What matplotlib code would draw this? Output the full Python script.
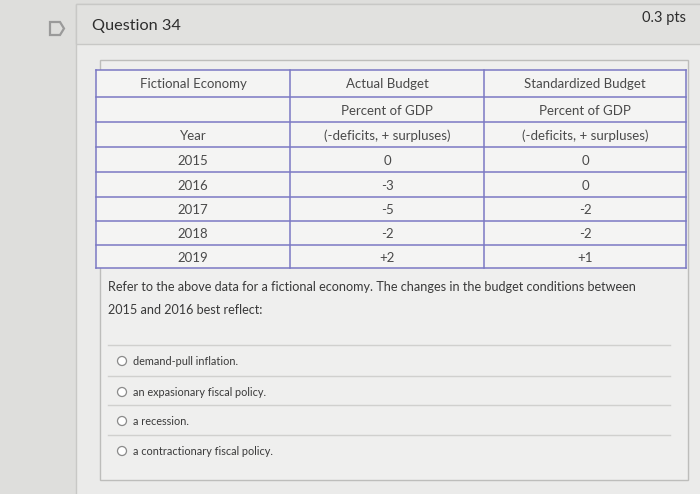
import matplotlib.pyplot as plt
from matplotlib.patches import Rectangle, Circle, Polygon

plt.rcParams['font.family'] = ['Lato', 'DejaVu Sans']

# table data
header_rows = [
    ["Fictional Economy", "Actual Budget", "Standardized Budget"],
    ["", "Percent of GDP", "Percent of GDP"],
    ["Year", "(-deficits, + surpluses)", "(-deficits, + surpluses)"],
]
years = ["2015", "2016", "2017", "2018", "2019"]
actual = ["0", "-3", "-5", "-2", "+2"]
standardized = ["0", "0", "-2", "-2", "+1"]

question = ["Refer to the above data for a fictional economy. The changes in the budget conditions between",
            "2015 and 2016 best reflect:"]
options = ["demand-pull inflation.", "an expasionary fiscal policy.",
           "a recession.", "a contractionary fiscal policy."]

fig = plt.figure(figsize=(7, 4.94), dpi=100)
ax = fig.add_axes([0, 0, 1, 1])
ax.set_xlim(0, 700)
ax.set_ylim(494, 0)
ax.axis('off')
fig.patch.set_facecolor('#dededc')

# card
ax.add_patch(Rectangle((76, 4), 630, 500, facecolor='#ebebea', edgecolor='#c8c8c6', lw=1))
ax.add_patch(Rectangle((76, 4), 630, 40, facecolor='#e1e1df', edgecolor='#c8c8c6', lw=1))
# bookmark icon
ax.add_patch(Polygon([(50, 22), (60, 22), (64, 28.5), (60, 35), (50, 35)],
                     closed=True, facecolor='none', edgecolor='#9a9a9a', lw=1.6))
ax.text(92, 26, "Question 34", fontsize=11.7, color='#2d2d2d', va='center', ha='left')
ax.text(686, 18, "0.3 pts", fontsize=10.5, color='#2d2d2d', va='center', ha='right')

# question body box
ax.add_patch(Rectangle((100, 60), 588, 420, facecolor='#efefee', edgecolor='#bdbdbb', lw=1))

# table
col_x = [96, 290, 484, 686]
row_y = [70, 97, 122, 147, 172, 197, 221, 245, 268]
ax.add_patch(Rectangle((col_x[0], row_y[0]), col_x[-1] - col_x[0], row_y[-1] - row_y[0],
                       facecolor='#f4f4f3', edgecolor='none'))
line_c = '#7b79c4'
for y in row_y:
    ax.plot([col_x[0], col_x[-1]], [y, y], color=line_c, lw=1.1)
for x in col_x:
    ax.plot([x, x], [row_y[0], row_y[-1]], color=line_c, lw=1.1)

rows = header_rows + [[y, a, s] for y, a, s in zip(years, actual, standardized)]
txt_c = '#4a4a4a'
for i, row in enumerate(rows):
    yc = (row_y[i] + row_y[i + 1]) / 2 + 1
    for j, t in enumerate(row):
        xc = (col_x[j] + col_x[j + 1]) / 2
        ax.text(xc, yc, t, fontsize=9.5, color=txt_c, ha='center', va='center')

# question text
for k, line in enumerate(question):
    ax.text(108, 287 + k * 23, line, fontsize=9.1, color='#3a3a3a', ha='left', va='center')

# options
sep_y = [345, 376, 405, 435]
for y in sep_y:
    ax.plot([108, 670], [y, y], color='#d0d0ce', lw=1)
opt_y = [361, 392, 421, 451]
for y, t in zip(opt_y, options):
    ax.add_patch(Circle((122, y), 4.5, facecolor='white', edgecolor='#8a8a8a', lw=0.9))
    ax.text(133, y, t, fontsize=7.8, color='#3a3a3a', ha='left', va='center')

fig.savefig('out.png', dpi=100, facecolor=fig.get_facecolor())
